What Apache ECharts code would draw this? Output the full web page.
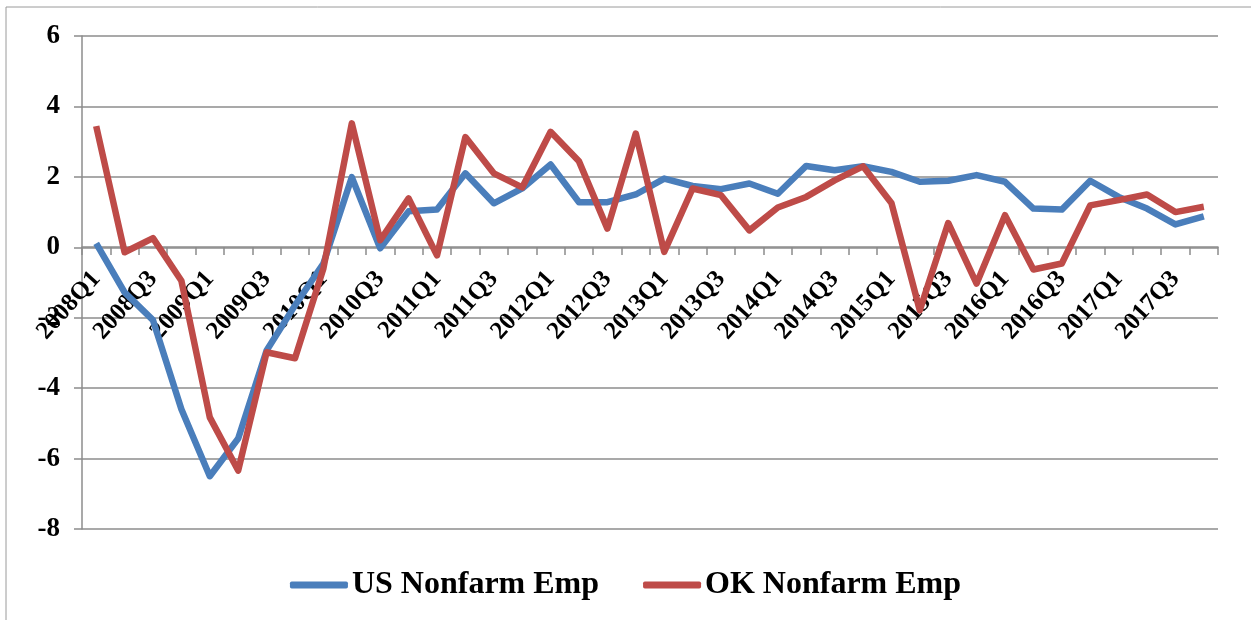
<!DOCTYPE html>
<html>
<head>
<meta charset="utf-8">
<script src="https://cdn.jsdelivr.net/npm/echarts@6/dist/echarts.min.js"></script>
<style>
  html, body { margin: 0; padding: 0; background: #fff; }
  #chart { width: 1251px; height: 620px; }
</style>
</head>
<body>
<div id="chart"></div>
<script>
// quarters 2008Q1 .. 2017Q4
var quarters = []
for (var y = 2008; y <= 2017; y++) {
  for (var q = 1; q <= 4; q++) quarters.push(y + 'Q' + q)
}

var usEmp = [0.11, -1.28, -2.07, -4.6, -6.5, -5.43, -2.93, -1.65, -0.46, 1.99,
  -0.03, 1.02, 1.07, 2.1, 1.25, 1.67, 2.35, 1.28, 1.28, 1.5,
  1.95, 1.74, 1.65, 1.81, 1.52, 2.31, 2.19, 2.3, 2.14, 1.86,
  1.89, 2.05, 1.86, 1.1, 1.07, 1.89, 1.43, 1.1, 0.65, 0.88]

var okEmp = [3.44, -0.14, 0.26, -0.95, -4.83, -6.34, -2.98, -3.15, -0.6, 3.52,
  0.2, 1.39, -0.23, 3.13, 2.1, 1.7, 3.28, 2.44, 0.53, 3.23,
  -0.13, 1.67, 1.48, 0.48, 1.13, 1.43, 1.9, 2.3, 1.26, -1.79,
  0.69, -1.03, 0.91, -0.63, -0.46, 1.19, 1.34, 1.5, 1.0, 1.15]

var yTicks = { min: -8, max: 6, step: 2 }

var chart = echarts.init(document.getElementById('chart'))
var serif = '"Liberation Serif", "Times New Roman", serif'
var gridColor = '#8c8c8c'

// grid height 493px; the category axis sits at value 0
var gridTop = 36, gridBottom = 91, gridH = 620 - gridTop - gridBottom
var zeroOffset = -Math.round(gridH * (0 - yTicks.min) / (yTicks.max - yTicks.min))

chart.setOption({
  animation: false,
  graphic: [{
    type: 'rect',
    shape: { x: 6, y: 7, width: 1260, height: 640 },
    style: { fill: 'none', stroke: '#9a9a9a', lineWidth: 1 }
  }],
  grid: { left: 82, right: 33, top: gridTop, bottom: gridBottom },
  legend: {
    bottom: 14,
    left: 'center',
    itemWidth: 58,
    itemHeight: 7,
    itemGap: 44,
    icon: 'roundRect',
    textStyle: { fontFamily: serif, fontWeight: 'bold', fontSize: 32, color: '#000', padding: [0, 0, 0, -1] },
    data: ['US Nonfarm Emp', 'OK Nonfarm Emp']
  },
  xAxis: {
    type: 'category',
    data: quarters,
    boundaryGap: true,
    offset: zeroOffset,
    axisLine: { onZero: false, lineStyle: { color: gridColor, width: 1.5 } },
    axisTick: { show: true, interval: 0, length: 8, lineStyle: { color: gridColor, width: 1.5 } },
    axisLabel: {
      interval: 1,
      rotate: 48,
      margin: 28,
      fontFamily: serif,
      fontWeight: 'bold',
      fontSize: 25,
      color: '#000'
    },
    splitLine: { show: false }
  },
  yAxis: {
    type: 'value',
    min: yTicks.min,
    max: yTicks.max,
    interval: yTicks.step,
    axisLine: { show: true, lineStyle: { color: gridColor, width: 1.5 } },
    axisTick: { show: true, length: 8, lineStyle: { color: gridColor, width: 1.5 } },
    axisLabel: {
      margin: 22,
      fontFamily: serif,
      fontWeight: 'bold',
      fontSize: 27,
      color: '#000'
    },
    splitLine: { lineStyle: { color: gridColor, width: 1.5 } }
  },
  series: [
    {
      name: 'US Nonfarm Emp',
      type: 'line',
      data: usEmp,
      symbol: 'none',
      lineStyle: { color: '#4a7ebb', width: 6.5, join: 'round' },
      itemStyle: { color: '#4a7ebb' }
    },
    {
      name: 'OK Nonfarm Emp',
      type: 'line',
      data: okEmp,
      symbol: 'none',
      lineStyle: { color: '#be4b48', width: 6.5, join: 'round' },
      itemStyle: { color: '#be4b48' }
    }
  ]
})
</script>
</body>
</html>
